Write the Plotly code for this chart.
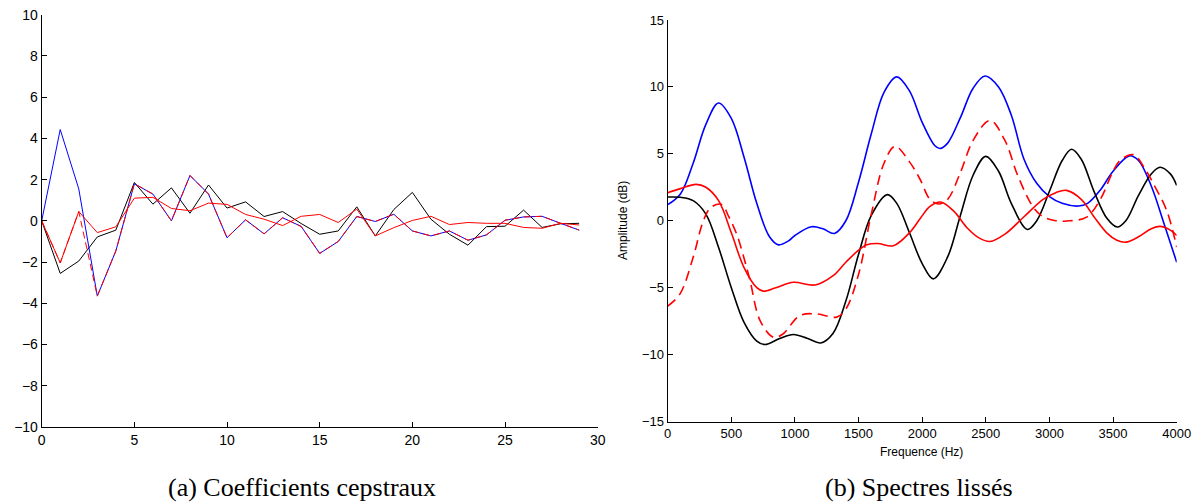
import plotly.graph_objects as go

# ---- Left panel: cepstral coefficients (index 0..29)
coef_idx = list(range(30))
cep_black = [0, -2.55, -1.95, -0.78, -0.45, 1.86, 0.81, 1.6, 0.37, 1.74, 0.62, 0.92, 0.21, 0.45, -0.13,
             -0.65, -0.49, 0.68, -0.73, 0.55, 1.38, 0.08, -0.65, -1.18, -0.28, -0.26, 0.52, -0.32, -0.14, -0.12]
cep_blue = [0, 4.43, 1.55, -3.65, -1.46, 1.8, 1.3, 0.0, 2.2, 1.3, -0.82, 0.05, -0.63, 0.15, -0.27,
            -1.58, -1.0, 0.21, -0.03, 0.32, -0.49, -0.73, -0.49, -0.94, -0.68, 0.03, 0.19, 0.22, -0.12, -0.45]
cep_red = [0, -2.04, 0.45, -0.57, -0.29, 1.1, 1.14, 0.6, 0.49, 0.86, 0.8, 0.31, 0.08, -0.23, 0.22,
           0.31, -0.08, 0.57, -0.73, -0.33, 0.02, 0.22, -0.18, -0.08, -0.12, -0.12, -0.32, -0.36, -0.12, -0.2]
cep_red_dash = [0, -2.04, 0.45, -3.65, -1.46, 1.8, 1.3, 0.0, 2.2, 1.3, -0.82, 0.05, -0.63, 0.15, -0.27,
                -1.58, -1.0, 0.21, -0.03, 0.32, -0.49, -0.73, -0.49, -0.94, -0.68, 0.03, 0.19, 0.22, -0.12, -0.45]

# ---- Right panel: smoothed spectra (Hz, dB)
f_blue = [0, 100, 200, 300, 400, 500, 600, 700, 800, 870, 950, 1000, 1130, 1220, 1310, 1400, 1500, 1600,
          1700, 1800, 1900, 2000, 2100, 2140, 2200, 2300, 2400, 2494, 2600, 2700, 2800, 2900, 3000, 3100,
          3227, 3300, 3400, 3500, 3628, 3700, 3800, 3900, 4000]
a_blue = [1.2, 2.0, 4.3, 7.2, 8.8, 7.65, 4.75, 1.3, -1.2, -1.8, -1.5, -1.1, -0.45, -0.6, -0.95, 0.0, 2.9, 6.5,
          9.6, 10.75, 9.7, 7.35, 5.6, 5.4, 5.8, 7.7, 9.9, 10.82, 10.0, 7.9, 4.6, 2.8, 1.8, 1.3,
          1.1, 1.3, 2.3, 3.7, 4.85, 4.5, 2.6, -0.2, -3.1]

f_black = [0, 100, 200, 300, 400, 500, 600, 700, 765, 880, 988, 1100, 1202, 1300, 1400, 1500, 1600, 1726,
           1800, 1900, 2000, 2087, 2200, 2300, 2400, 2499, 2600, 2700, 2826, 2900, 3000, 3100, 3174, 3250,
           3350, 3450, 3533, 3600, 3700, 3800, 3869, 3950, 4000]
a_black = [1.77, 1.75, 1.5, 0.5, -2.0, -5.0, -7.6, -9.0, -9.25, -8.8, -8.5, -8.8, -9.13, -8.4, -6.0, -2.5, 0.4, 1.95,
           1.3, -0.9, -3.2, -4.34, -2.7, 0.4, 3.4, 4.81, 3.7, 1.3, -0.65, 0.0, 2.2, 4.5, 5.34, 4.6,
           2.2, 0.2, -0.47, 0.0, 1.9, 3.5, 4.0, 3.5, 2.64]

f_red = [0, 100, 223, 300, 400, 500, 600, 700, 752, 850, 988, 1157, 1300, 1400, 1500, 1564, 1650, 1773,
         1900, 1983, 2061, 2145, 2250, 2350, 2450, 2532, 2650, 2800, 2950, 3050, 3134, 3250, 3350, 3450,
         3530, 3601, 3700, 3800, 3869, 3950, 4000]
a_red = [2.1, 2.4, 2.72, 2.5, 1.5, -0.9, -3.5, -5.0, -5.26, -5.0, -4.6, -4.8, -4.1, -3.1, -2.2, -1.8, -1.7, -1.87,
         -0.9, 0.15, 1.07, 1.4, 0.7, -0.5, -1.3, -1.55, -1.0, 0.3, 1.6, 2.1, 2.27, 1.6, 0.3, -0.9,
         -1.45, -1.6, -1.2, -0.6, -0.42, -0.7, -1.1]

f_red_dash = [0, 97, 201, 280, 340, 424, 480, 542, 600, 647, 726, 830, 900, 1040, 1171, 1328, 1400, 1500,
              1600, 1700, 1786, 1900, 1983, 2061, 2130, 2200, 2300, 2400, 2533, 2650, 2750, 2873, 2950,
              3050, 3135, 3292, 3400, 3500, 3554, 3659, 3750, 3816, 3921, 4000]
a_red_dash = [-6.38, -5.46, -2.7, 0.0, 1.0, 1.22, 0.3, -1.0, -2.8, -4.46, -7.46, -8.7, -8.5, -7.08, -6.96, -7.2, -6.6, -4.0,
              0.5, 4.3, 5.56, 4.4, 3.1, 1.6, 1.25, 1.6, 3.6, 6.0, 7.5, 6.0, 3.4, 1.0, 0.3,
              0.0, -0.02, 0.27, 1.6, 3.7, 4.5, 4.94, 3.9, 2.77, 0.77, -1.97]

x_ticks_left = [0, 5, 10, 15, 20, 25, 30]
y_ticks_left = [-10, -8, -6, -4, -2, 0, 2, 4, 6, 8, 10]
x_ticks_right = [0, 500, 1000, 1500, 2000, 2500, 3000, 3500, 4000]
y_ticks_right = [-15, -10, -5, 0, 5, 10, 15]

fig = go.Figure()

def add_left(y, color, dash="solid"):
    fig.add_trace(go.Scatter(x=coef_idx, y=y, mode="lines", xaxis="x", yaxis="y",
                             line=dict(color=color, width=1, dash=dash), showlegend=False))

add_left(cep_black, "#000000")
add_left(cep_blue, "#0000ff")
add_left(cep_red_dash, "#ff0000", "7px,4px")
add_left(cep_red, "#ff0000")

def add_right(x, y, color, dash="solid"):
    fig.add_trace(go.Scatter(x=x, y=y, mode="lines", xaxis="x2", yaxis="y2",
                             line=dict(color=color, width=1.6, dash=dash, shape="spline", smoothing=1.0),
                             showlegend=False))

add_right(f_blue, a_blue, "#0000ff")
add_right(f_black, a_black, "#000000")
add_right(f_red, a_red, "#ff0000")
add_right(f_red_dash, a_red_dash, "#ff0000", "10px,6px")

W, H = 1197, 502
tickfont = dict(family="Liberation Sans, Arial, sans-serif", size=14, color="#000000")
tickfont_r = dict(family="Liberation Sans, Arial, sans-serif", size=13, color="#000000")

axis_common = dict(showline=True, linecolor="#000000", linewidth=1, mirror=False,
                   ticks="inside", ticklen=5, tickcolor="#000000", tickwidth=1,
                   showgrid=False, zeroline=False, tickmode="array", automargin=False)

def note(text, x, y, font, angle=0):
    return dict(text=text, x=x / W, y=1 - y / H, xref="paper", yref="paper",
                xanchor="center", yanchor="middle", showarrow=False, textangle=angle, font=font)

sans12 = dict(family="Liberation Sans, Arial, sans-serif", size=12, color="#000")
serif = dict(family="Liberation Serif, DejaVu Serif, serif", size=26, color="#000")

fig.update_layout(
    template="none",
    width=W, height=H,
    margin=dict(l=0, r=0, t=0, b=0, pad=0),
    paper_bgcolor="white", plot_bgcolor="white",
    xaxis=dict(domain=[41.7 / W, 597.7 / W], range=[0, 30], tickvals=x_ticks_left,
               tickfont=tickfont, anchor="y", **axis_common),
    yaxis=dict(domain=[1 - 427 / H, 1 - 14.7 / H], range=[-10, 10], tickvals=y_ticks_left,
               tickfont=tickfont, anchor="x", **axis_common),
    xaxis2=dict(domain=[667.7 / W, 1176.7 / W], range=[0, 4000], tickvals=x_ticks_right,
                tickfont=tickfont_r, anchor="y2", **axis_common),
    yaxis2=dict(domain=[1 - 421.5 / H, 1 - 20 / H], range=[-15, 15], tickvals=y_ticks_right,
                tickfont=tickfont_r, anchor="x2", **axis_common),
    annotations=[
        note("Amplitude (dB)", 623, 221, sans12, -90),
        note("Frequence (Hz)", 921, 452, sans12),
        note("(a) Coefficients cepstraux", 302, 487, serif),
        note("(b) Spectres lissés", 919, 487, serif),
    ],
)

fig.write_html("out.html", config={"displayModeBar": False},
               post_script="document.body.style.margin='0';document.body.style.overflow='hidden';")
